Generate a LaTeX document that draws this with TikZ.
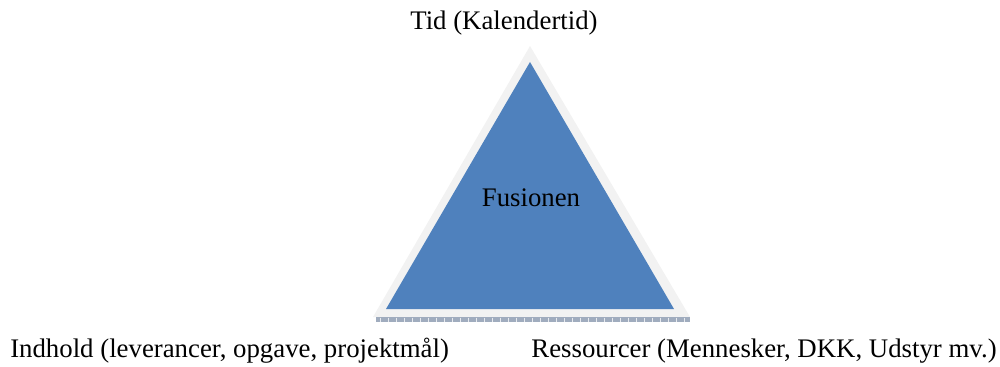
\documentclass[tikz,border=0pt]{standalone}
\usepackage{fontspec}
\setmainfont{Liberation Serif}
\usetikzlibrary{positioning}
\definecolor{colFill}{RGB}{79,129,189}
\definecolor{colRim}{RGB}{242,242,242}
\definecolor{colBase}{RGB}{160,172,190}
\tikzset{
    label/.style={font=\fontsize{20.1}{23}\selectfont, inner sep=0pt, anchor=base},
    rim/.style={fill=colRim, draw=none},
    face/.style={fill=colFill, draw=none}
}

\begin{document}
\begin{tikzpicture}[x=0.75pt, y=-0.75pt]
    \useasboundingbox (0,0) rectangle (1000,367);

    % triangle with light rim and base strip
    \fill[rim] (530,46) -- (690,317) -- (373,317) -- cycle;
    \fill[face] (530,62) -- (674,309) -- (386,309) -- cycle;
    \fill[colBase] (376,317) rectangle (690,322);
    \foreach \x in {380,388,...,688}
        \draw[white!75!colBase, line width=0.4pt] (\x,317.5) -- (\x,321.5);

    \node[label] (fus) at (531,207) {Fusionen};
    \node[label] (tid) at (504,30) {Tid (Kalendertid)};
    \node[label, anchor=base west] (ind) at (10,357) {Indhold (leverancer, opgave, projektmål)};
    \node[label, anchor=base east] (res) at (997,357) {Ressourcer (Mennesker, DKK, Udstyr mv.)};

\end{tikzpicture}
\end{document}
